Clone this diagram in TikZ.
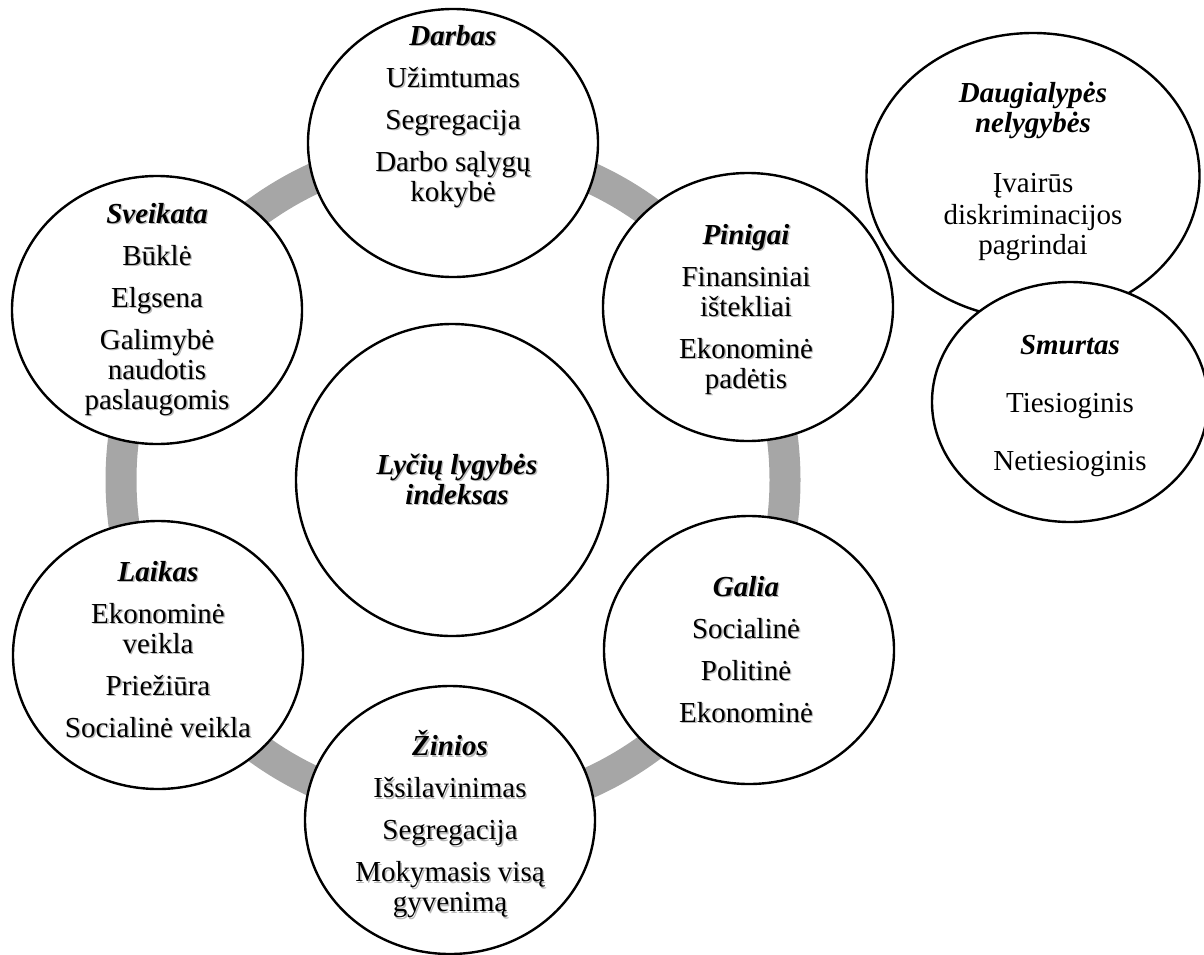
\documentclass[tikz,border=0pt]{standalone}
\usepackage{fontspec}
\setmainfont{Liberation Serif}
\usetikzlibrary{shapes.geometric}
\definecolor{ringgray}{RGB}{166,166,166}
% soft text shadow, one line at a time
\newcommand\shd[1]{\rlap{\kern0.7pt\raisebox{-0.7pt}{\textcolor{black!28}{#1}}}#1}
\newcommand\ttl[1]{\shd{\textbf{\textit{#1}}}}
\tikzset{
  bubble/.style={draw=black, line width=1.2pt, fill=white, ellipse,
    minimum width=145pt, minimum height=134pt, inner sep=0pt},
  txt/.style={align=center, inner sep=0pt,
    font=\fontsize{14.5}{15}\selectfont,
    execute at begin node={\setlength{\baselineskip}{15pt}}},
  ring/.style={draw=ringgray, line width=15.5pt},
}
\begin{document}
\begin{tikzpicture}[x=0.5pt, y=-0.5pt]
  \useasboundingbox (0,0) rectangle (1204,954);
  \draw[ring] (453,480) circle[radius=166pt];

  \node[bubble] (darbas) at (453,143) {};
  \node[txt] (darbasTxt) at (453,117)
    {\ttl{Darbas}\\[6pt]\shd{Užimtumas}\\[6pt]\shd{Segregacija}\\[6pt]\shd{Darbo sąlygų}\\\shd{kokybė}};

  \node[bubble] (pinigai) at (748,307) {};
  \node[txt] (pinigaiTxt) at (746,310)
    {\ttl{Pinigai}\\[6pt]\shd{Finansiniai}\\\shd{ištekliai}\\[6pt]\shd{Ekonominė}\\\shd{padėtis}};

  \node[bubble] (galia) at (749,650) {};
  \node[txt] (galiaTxt) at (746,650)
    {\ttl{Galia}\\[6pt]\shd{Socialinė}\\[6pt]\shd{Politinė}\\[6pt]\shd{Ekonominė}};

  \node[bubble] (zinios) at (450,820) {};
  \node[txt] (ziniosTxt) at (450,825)
    {\ttl{Žinios}\\[6pt]\shd{Išsilavinimas}\\[6pt]\shd{Segregacija}\\[6pt]\shd{Mokymasis visą}\\\shd{gyvenimą}};

  \node[bubble] (laikas) at (158,655) {};
  \node[txt] (laikasTxt) at (158,650)
    {\ttl{Laikas}\\[6pt]\shd{Ekonominė}\\\shd{veikla}\\[6pt]\shd{Priežiūra}\\[6pt]\shd{Socialinė veikla}};

  \node[bubble] (sveikata) at (157,310) {};
  \node[txt] (sveikataTxt) at (157,310)
    {\ttl{Sveikata}\\[6pt]\shd{Būklė}\\[6pt]\shd{Elgsena}\\[6pt]\shd{Galimybė}\\\shd{naudotis}\\\shd{paslaugomis}};

  \node[bubble, circle, minimum size=156pt] (indeksas) at (452,480) {};
  \node[txt] (indeksasTxt) at (457,480) {\ttl{Lyčių lygybės}\\\ttl{indeksas}};

  % side circles
  \node[bubble, minimum width=166.5pt, minimum height=143pt] (daug) at (1033,176) {};
  \node[txt] (daugTxt) at (1033,171)
    {\textbf{\textit{Daugialypės}}\\\textbf{\textit{nelygybės}}\\[15pt]Įvairūs\\[1pt]diskriminacijos\\pagrindai};
  \node[bubble, minimum width=138pt, minimum height=120pt] (smurtas) at (1070,402) {};
  \node[txt] (smurtasTxt) at (1070,406)
    {\textbf{\textit{Smurtas}}\\[14pt]Tiesioginis\\[14pt]Netiesioginis};
\end{tikzpicture}
\end{document}
